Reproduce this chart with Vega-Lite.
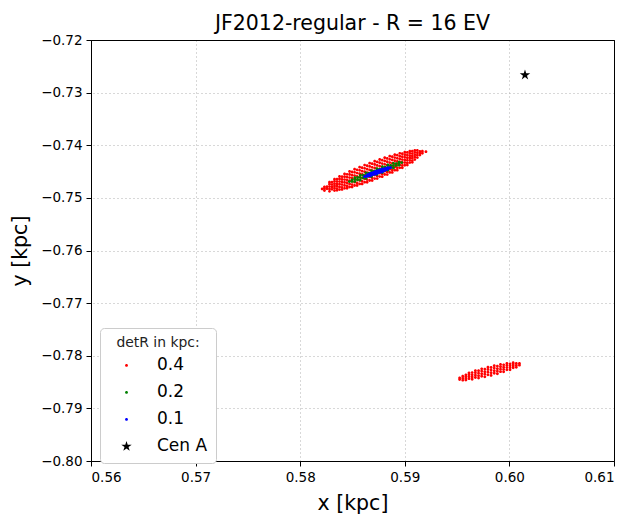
{
"$schema": "https://vega.github.io/schema/vega-lite/v6.json",
"width": 523, "height": 421,
"autosize": {"type": "none"},
"padding": {"left": 91, "top": 40, "right": 28, "bottom": 56},
"background": "white",
"title": {"text": "JF2012-regular - R = 16 EV", "fontSize": 20.5, "fontWeight": "normal", "font": "DejaVu Sans", "color": "black", "offset": -1},
"config": {
 "font": "DejaVu Sans",
 "view": {"stroke": "black", "strokeWidth": 1},
 "axis": {"domain": false, "gridColor": "#b0b0b0", "gridDash": [1, 3], "gridWidth": 1, "gridOpacity": 1, "tickColor": "black", "tickSize": 5, "labelFontSize": 13.5, "labelColor": "black", "labelFont": "DejaVu Sans", "titleFont": "DejaVu Sans", "titleFontSize": 20.5, "titleFontWeight": "normal", "titleColor": "black", "labelPadding": 4, "zindex": 1},
 "legend": {"titleFontSize": 13.9, "titleFontWeight": "normal", "titleColor": "#222222", "titleAnchor": "middle", "labelFontSize": 17, "labelColor": "black", "padding": 8, "strokeColor": "#cccccc", "fillColor": "white", "cornerRadius": 4, "rowPadding": 9, "titlePadding": 7, "labelOffset": 22, "symbolOffset": 10, "symbolStrokeWidth": 0, "symbolSize": 120}
},
"data": {"values": [
{"x":0.58210,"y":-0.74830,"d":"0.4"},
{"x":0.58232,"y":-0.74861,"d":"0.4"},{"x":0.58232,"y":-0.74826,"d":"0.4"},{"x":0.58232,"y":-0.74791,"d":"0.4"},
{"x":0.58256,"y":-0.74826,"d":"0.4"},{"x":0.58256,"y":-0.74787,"d":"0.4"},
{"x":0.58280,"y":-0.74876,"d":"0.4"},{"x":0.58280,"y":-0.74831,"d":"0.4"},{"x":0.58280,"y":-0.74786,"d":"0.4"},{"x":0.58280,"y":-0.74741,"d":"0.4"},{"x":0.58280,"y":-0.74701,"d":"0.4"},
{"x":0.58304,"y":-0.74838,"d":"0.4"},{"x":0.58304,"y":-0.74793,"d":"0.4"},{"x":0.58304,"y":-0.74748,"d":"0.4"},{"x":0.58304,"y":-0.74703,"d":"0.4"},
{"x":0.58328,"y":-0.74862,"d":"0.4"},{"x":0.58328,"y":-0.74818,"d":"0.4"},{"x":0.58328,"y":-0.74774,"d":"0.4"},{"x":0.58328,"y":-0.74730,"d":"0.4"},{"x":0.58328,"y":-0.74686,"d":"0.4"},{"x":0.58328,"y":-0.74644,"d":"0.4"},
{"x":0.58352,"y":-0.74857,"d":"0.4"},{"x":0.58352,"y":-0.74823,"d":"0.4"},{"x":0.58352,"y":-0.74777,"d":"0.4"},{"x":0.58352,"y":-0.74734,"d":"0.4"},{"x":0.58352,"y":-0.74690,"d":"0.4"},{"x":0.58352,"y":-0.74646,"d":"0.4"},
{"x":0.58376,"y":-0.74842,"d":"0.4"},{"x":0.58376,"y":-0.74792,"d":"0.4"},{"x":0.58376,"y":-0.74742,"d":"0.4"},{"x":0.58376,"y":-0.74691,"d":"0.4"},{"x":0.58376,"y":-0.74641,"d":"0.4"},{"x":0.58376,"y":-0.74593,"d":"0.4"},
{"x":0.58400,"y":-0.74839,"d":"0.4"},{"x":0.58400,"y":-0.74800,"d":"0.4"},{"x":0.58400,"y":-0.74748,"d":"0.4"},{"x":0.58400,"y":-0.74699,"d":"0.4"},{"x":0.58400,"y":-0.74649,"d":"0.4"},{"x":0.58400,"y":-0.74598,"d":"0.4"},
{"x":0.58424,"y":-0.74819,"d":"0.4"},{"x":0.58424,"y":-0.74764,"d":"0.4"},{"x":0.58424,"y":-0.74708,"d":"0.4"},{"x":0.58424,"y":-0.74652,"d":"0.4"},{"x":0.58424,"y":-0.74597,"d":"0.4"},{"x":0.58424,"y":-0.74544,"d":"0.4"},
{"x":0.58448,"y":-0.74817,"d":"0.4"},{"x":0.58448,"y":-0.74774,"d":"0.4"},{"x":0.58448,"y":-0.74717,"d":"0.4"},{"x":0.58448,"y":-0.74663,"d":"0.4"},{"x":0.58448,"y":-0.74607,"d":"0.4"},{"x":0.58448,"y":-0.74552,"d":"0.4"},
{"x":0.58472,"y":-0.74794,"d":"0.4"},{"x":0.58472,"y":-0.74734,"d":"0.4"},{"x":0.58472,"y":-0.74675,"d":"0.4"},{"x":0.58472,"y":-0.74615,"d":"0.4"},{"x":0.58472,"y":-0.74555,"d":"0.4"},{"x":0.58472,"y":-0.74499,"d":"0.4"},
{"x":0.58496,"y":-0.74793,"d":"0.4"},{"x":0.58496,"y":-0.74747,"d":"0.4"},{"x":0.58496,"y":-0.74685,"d":"0.4"},{"x":0.58496,"y":-0.74628,"d":"0.4"},{"x":0.58496,"y":-0.74568,"d":"0.4"},{"x":0.58496,"y":-0.74509,"d":"0.4"},
{"x":0.58520,"y":-0.74764,"d":"0.4"},{"x":0.58520,"y":-0.74702,"d":"0.4"},{"x":0.58520,"y":-0.74640,"d":"0.4"},{"x":0.58520,"y":-0.74577,"d":"0.4"},{"x":0.58520,"y":-0.74515,"d":"0.4"},{"x":0.58520,"y":-0.74456,"d":"0.4"},
{"x":0.58544,"y":-0.74764,"d":"0.4"},{"x":0.58544,"y":-0.74716,"d":"0.4"},{"x":0.58544,"y":-0.74652,"d":"0.4"},{"x":0.58544,"y":-0.74591,"d":"0.4"},{"x":0.58544,"y":-0.74529,"d":"0.4"},{"x":0.58544,"y":-0.74467,"d":"0.4"},
{"x":0.58568,"y":-0.74734,"d":"0.4"},{"x":0.58568,"y":-0.74670,"d":"0.4"},{"x":0.58568,"y":-0.74606,"d":"0.4"},{"x":0.58568,"y":-0.74541,"d":"0.4"},{"x":0.58568,"y":-0.74477,"d":"0.4"},{"x":0.58568,"y":-0.74416,"d":"0.4"},
{"x":0.58592,"y":-0.74735,"d":"0.4"},{"x":0.58592,"y":-0.74685,"d":"0.4"},{"x":0.58592,"y":-0.74619,"d":"0.4"},{"x":0.58592,"y":-0.74556,"d":"0.4"},{"x":0.58592,"y":-0.74492,"d":"0.4"},{"x":0.58592,"y":-0.74428,"d":"0.4"},
{"x":0.58616,"y":-0.74702,"d":"0.4"},{"x":0.58616,"y":-0.74636,"d":"0.4"},{"x":0.58616,"y":-0.74570,"d":"0.4"},{"x":0.58616,"y":-0.74504,"d":"0.4"},{"x":0.58616,"y":-0.74439,"d":"0.4"},{"x":0.58616,"y":-0.74377,"d":"0.4"},
{"x":0.58640,"y":-0.74703,"d":"0.4"},{"x":0.58640,"y":-0.74652,"d":"0.4"},{"x":0.58640,"y":-0.74584,"d":"0.4"},{"x":0.58640,"y":-0.74520,"d":"0.4"},{"x":0.58640,"y":-0.74454,"d":"0.4"},{"x":0.58640,"y":-0.74389,"d":"0.4"},
{"x":0.58664,"y":-0.74669,"d":"0.4"},{"x":0.58664,"y":-0.74602,"d":"0.4"},{"x":0.58664,"y":-0.74536,"d":"0.4"},{"x":0.58664,"y":-0.74469,"d":"0.4"},{"x":0.58664,"y":-0.74402,"d":"0.4"},{"x":0.58664,"y":-0.74340,"d":"0.4"},
{"x":0.58688,"y":-0.74670,"d":"0.4"},{"x":0.58688,"y":-0.74618,"d":"0.4"},{"x":0.58688,"y":-0.74550,"d":"0.4"},{"x":0.58688,"y":-0.74485,"d":"0.4"},{"x":0.58688,"y":-0.74419,"d":"0.4"},{"x":0.58688,"y":-0.74352,"d":"0.4"},
{"x":0.58712,"y":-0.74633,"d":"0.4"},{"x":0.58712,"y":-0.74566,"d":"0.4"},{"x":0.58712,"y":-0.74500,"d":"0.4"},{"x":0.58712,"y":-0.74433,"d":"0.4"},{"x":0.58712,"y":-0.74366,"d":"0.4"},{"x":0.58712,"y":-0.74304,"d":"0.4"},
{"x":0.58736,"y":-0.74634,"d":"0.4"},{"x":0.58736,"y":-0.74582,"d":"0.4"},{"x":0.58736,"y":-0.74514,"d":"0.4"},{"x":0.58736,"y":-0.74449,"d":"0.4"},{"x":0.58736,"y":-0.74383,"d":"0.4"},{"x":0.58736,"y":-0.74316,"d":"0.4"},
{"x":0.58760,"y":-0.74596,"d":"0.4"},{"x":0.58760,"y":-0.74530,"d":"0.4"},{"x":0.58760,"y":-0.74464,"d":"0.4"},{"x":0.58760,"y":-0.74398,"d":"0.4"},{"x":0.58760,"y":-0.74333,"d":"0.4"},{"x":0.58760,"y":-0.74271,"d":"0.4"},
{"x":0.58784,"y":-0.74597,"d":"0.4"},{"x":0.58784,"y":-0.74546,"d":"0.4"},{"x":0.58784,"y":-0.74478,"d":"0.4"},{"x":0.58784,"y":-0.74414,"d":"0.4"},{"x":0.58784,"y":-0.74348,"d":"0.4"},{"x":0.58784,"y":-0.74283,"d":"0.4"},
{"x":0.58808,"y":-0.74556,"d":"0.4"},{"x":0.58808,"y":-0.74492,"d":"0.4"},{"x":0.58808,"y":-0.74428,"d":"0.4"},{"x":0.58808,"y":-0.74363,"d":"0.4"},{"x":0.58808,"y":-0.74299,"d":"0.4"},{"x":0.58808,"y":-0.74238,"d":"0.4"},
{"x":0.58832,"y":-0.74557,"d":"0.4"},{"x":0.58832,"y":-0.74507,"d":"0.4"},{"x":0.58832,"y":-0.74441,"d":"0.4"},{"x":0.58832,"y":-0.74378,"d":"0.4"},{"x":0.58832,"y":-0.74314,"d":"0.4"},{"x":0.58832,"y":-0.74250,"d":"0.4"},
{"x":0.58856,"y":-0.74516,"d":"0.4"},{"x":0.58856,"y":-0.74454,"d":"0.4"},{"x":0.58856,"y":-0.74392,"d":"0.4"},{"x":0.58856,"y":-0.74329,"d":"0.4"},{"x":0.58856,"y":-0.74267,"d":"0.4"},{"x":0.58856,"y":-0.74208,"d":"0.4"},
{"x":0.58880,"y":-0.74516,"d":"0.4"},{"x":0.58880,"y":-0.74468,"d":"0.4"},{"x":0.58880,"y":-0.74404,"d":"0.4"},{"x":0.58880,"y":-0.74343,"d":"0.4"},{"x":0.58880,"y":-0.74281,"d":"0.4"},{"x":0.58880,"y":-0.74219,"d":"0.4"},
{"x":0.58904,"y":-0.74474,"d":"0.4"},{"x":0.58904,"y":-0.74414,"d":"0.4"},{"x":0.58904,"y":-0.74355,"d":"0.4"},{"x":0.58904,"y":-0.74295,"d":"0.4"},{"x":0.58904,"y":-0.74235,"d":"0.4"},{"x":0.58904,"y":-0.74179,"d":"0.4"},
{"x":0.58928,"y":-0.74473,"d":"0.4"},{"x":0.58928,"y":-0.74427,"d":"0.4"},{"x":0.58928,"y":-0.74365,"d":"0.4"},{"x":0.58928,"y":-0.74308,"d":"0.4"},{"x":0.58928,"y":-0.74248,"d":"0.4"},{"x":0.58928,"y":-0.74189,"d":"0.4"},
{"x":0.58952,"y":-0.74429,"d":"0.4"},{"x":0.58952,"y":-0.74374,"d":"0.4"},{"x":0.58952,"y":-0.74318,"d":"0.4"},{"x":0.58952,"y":-0.74262,"d":"0.4"},{"x":0.58952,"y":-0.74207,"d":"0.4"},{"x":0.58952,"y":-0.74154,"d":"0.4"},
{"x":0.58976,"y":-0.74427,"d":"0.4"},{"x":0.58976,"y":-0.74384,"d":"0.4"},{"x":0.58976,"y":-0.74327,"d":"0.4"},{"x":0.58976,"y":-0.74273,"d":"0.4"},{"x":0.58976,"y":-0.74217,"d":"0.4"},{"x":0.58976,"y":-0.74162,"d":"0.4"},
{"x":0.59000,"y":-0.74380,"d":"0.4"},{"x":0.59000,"y":-0.74330,"d":"0.4"},{"x":0.59000,"y":-0.74280,"d":"0.4"},{"x":0.59000,"y":-0.74229,"d":"0.4"},{"x":0.59000,"y":-0.74179,"d":"0.4"},{"x":0.59000,"y":-0.74131,"d":"0.4"},
{"x":0.59024,"y":-0.74377,"d":"0.4"},{"x":0.59024,"y":-0.74338,"d":"0.4"},{"x":0.59024,"y":-0.74286,"d":"0.4"},{"x":0.59024,"y":-0.74237,"d":"0.4"},{"x":0.59024,"y":-0.74187,"d":"0.4"},{"x":0.59024,"y":-0.74136,"d":"0.4"},
{"x":0.59048,"y":-0.74330,"d":"0.4"},{"x":0.59048,"y":-0.74286,"d":"0.4"},{"x":0.59048,"y":-0.74242,"d":"0.4"},{"x":0.59048,"y":-0.74198,"d":"0.4"},{"x":0.59048,"y":-0.74154,"d":"0.4"},{"x":0.59048,"y":-0.74112,"d":"0.4"},
{"x":0.59072,"y":-0.74325,"d":"0.4"},{"x":0.59072,"y":-0.74291,"d":"0.4"},{"x":0.59072,"y":-0.74245,"d":"0.4"},{"x":0.59072,"y":-0.74202,"d":"0.4"},{"x":0.59072,"y":-0.74158,"d":"0.4"},{"x":0.59072,"y":-0.74114,"d":"0.4"},
{"x":0.59096,"y":-0.74272,"d":"0.4"},{"x":0.59096,"y":-0.74227,"d":"0.4"},{"x":0.59096,"y":-0.74182,"d":"0.4"},{"x":0.59096,"y":-0.74137,"d":"0.4"},{"x":0.59096,"y":-0.74097,"d":"0.4"},
{"x":0.59120,"y":-0.74234,"d":"0.4"},{"x":0.59120,"y":-0.74189,"d":"0.4"},{"x":0.59120,"y":-0.74144,"d":"0.4"},{"x":0.59120,"y":-0.74099,"d":"0.4"},
{"x":0.59144,"y":-0.74187,"d":"0.4"},{"x":0.59144,"y":-0.74152,"d":"0.4"},{"x":0.59144,"y":-0.74117,"d":"0.4"},
{"x":0.59168,"y":-0.74152,"d":"0.4"},{"x":0.59168,"y":-0.74113,"d":"0.4"},
{"x":0.59202,"y":-0.74122,"d":"0.4"},
{"x":0.59524,"y":-0.78453,"d":"0.4"},{"x":0.59524,"y":-0.78421,"d":"0.4"},
{"x":0.59554,"y":-0.78464,"d":"0.4"},{"x":0.59554,"y":-0.78427,"d":"0.4"},{"x":0.59554,"y":-0.78390,"d":"0.4"},
{"x":0.59584,"y":-0.78461,"d":"0.4"},{"x":0.59584,"y":-0.78428,"d":"0.4"},{"x":0.59584,"y":-0.78395,"d":"0.4"},{"x":0.59584,"y":-0.78362,"d":"0.4"},
{"x":0.59614,"y":-0.78436,"d":"0.4"},{"x":0.59614,"y":-0.78398,"d":"0.4"},{"x":0.59614,"y":-0.78360,"d":"0.4"},{"x":0.59614,"y":-0.78326,"d":"0.4"},
{"x":0.59644,"y":-0.78446,"d":"0.4"},{"x":0.59644,"y":-0.78404,"d":"0.4"},{"x":0.59644,"y":-0.78362,"d":"0.4"},{"x":0.59644,"y":-0.78320,"d":"0.4"},
{"x":0.59675,"y":-0.78414,"d":"0.4"},{"x":0.59675,"y":-0.78369,"d":"0.4"},{"x":0.59675,"y":-0.78325,"d":"0.4"},{"x":0.59675,"y":-0.78285,"d":"0.4"},
{"x":0.59705,"y":-0.78425,"d":"0.4"},{"x":0.59705,"y":-0.78378,"d":"0.4"},{"x":0.59705,"y":-0.78331,"d":"0.4"},{"x":0.59705,"y":-0.78284,"d":"0.4"},
{"x":0.59735,"y":-0.78389,"d":"0.4"},{"x":0.59735,"y":-0.78341,"d":"0.4"},{"x":0.59735,"y":-0.78292,"d":"0.4"},{"x":0.59735,"y":-0.78249,"d":"0.4"},
{"x":0.59765,"y":-0.78401,"d":"0.4"},{"x":0.59765,"y":-0.78352,"d":"0.4"},{"x":0.59765,"y":-0.78302,"d":"0.4"},{"x":0.59765,"y":-0.78253,"d":"0.4"},
{"x":0.59795,"y":-0.78362,"d":"0.4"},{"x":0.59795,"y":-0.78312,"d":"0.4"},{"x":0.59795,"y":-0.78262,"d":"0.4"},{"x":0.59795,"y":-0.78217,"d":"0.4"},
{"x":0.59825,"y":-0.78373,"d":"0.4"},{"x":0.59825,"y":-0.78323,"d":"0.4"},{"x":0.59825,"y":-0.78273,"d":"0.4"},{"x":0.59825,"y":-0.78223,"d":"0.4"},
{"x":0.59855,"y":-0.78333,"d":"0.4"},{"x":0.59855,"y":-0.78283,"d":"0.4"},{"x":0.59855,"y":-0.78234,"d":"0.4"},{"x":0.59855,"y":-0.78189,"d":"0.4"},
{"x":0.59885,"y":-0.78342,"d":"0.4"},{"x":0.59885,"y":-0.78293,"d":"0.4"},{"x":0.59885,"y":-0.78245,"d":"0.4"},{"x":0.59885,"y":-0.78196,"d":"0.4"},
{"x":0.59915,"y":-0.78302,"d":"0.4"},{"x":0.59915,"y":-0.78255,"d":"0.4"},{"x":0.59915,"y":-0.78208,"d":"0.4"},{"x":0.59915,"y":-0.78165,"d":"0.4"},
{"x":0.59945,"y":-0.78306,"d":"0.4"},{"x":0.59945,"y":-0.78262,"d":"0.4"},{"x":0.59945,"y":-0.78217,"d":"0.4"},{"x":0.59945,"y":-0.78173,"d":"0.4"},
{"x":0.59976,"y":-0.78267,"d":"0.4"},{"x":0.59976,"y":-0.78225,"d":"0.4"},{"x":0.59976,"y":-0.78183,"d":"0.4"},{"x":0.59976,"y":-0.78145,"d":"0.4"},
{"x":0.60006,"y":-0.78267,"d":"0.4"},{"x":0.60006,"y":-0.78229,"d":"0.4"},{"x":0.60006,"y":-0.78191,"d":"0.4"},{"x":0.60006,"y":-0.78153,"d":"0.4"},
{"x":0.60036,"y":-0.78228,"d":"0.4"},{"x":0.60036,"y":-0.78195,"d":"0.4"},{"x":0.60036,"y":-0.78162,"d":"0.4"},{"x":0.60036,"y":-0.78133,"d":"0.4"},
{"x":0.60066,"y":-0.78220,"d":"0.4"},{"x":0.60066,"y":-0.78183,"d":"0.4"},{"x":0.60066,"y":-0.78146,"d":"0.4"},
{"x":0.60096,"y":-0.78179,"d":"0.4"},{"x":0.60096,"y":-0.78147,"d":"0.4"},
{"x":0.58470,"y":-0.74691,"d":"0.2"},
{"x":0.58496,"y":-0.74687,"d":"0.2"},{"x":0.58496,"y":-0.74657,"d":"0.2"},
{"x":0.58523,"y":-0.74690,"d":"0.2"},{"x":0.58523,"y":-0.74653,"d":"0.2"},{"x":0.58523,"y":-0.74616,"d":"0.2"},
{"x":0.58549,"y":-0.74655,"d":"0.2"},{"x":0.58549,"y":-0.74613,"d":"0.2"},
{"x":0.58575,"y":-0.74662,"d":"0.2"},{"x":0.58575,"y":-0.74615,"d":"0.2"},{"x":0.58575,"y":-0.74568,"d":"0.2"},
{"x":0.58602,"y":-0.74621,"d":"0.2"},{"x":0.58602,"y":-0.74571,"d":"0.2"},
{"x":0.58628,"y":-0.74630,"d":"0.2"},{"x":0.58628,"y":-0.74577,"d":"0.2"},{"x":0.58628,"y":-0.74524,"d":"0.2"},
{"x":0.58654,"y":-0.74585,"d":"0.2"},{"x":0.58654,"y":-0.74531,"d":"0.2"},
{"x":0.58681,"y":-0.74594,"d":"0.2"},{"x":0.58681,"y":-0.74539,"d":"0.2"},{"x":0.58681,"y":-0.74484,"d":"0.2"},
{"x":0.58707,"y":-0.74548,"d":"0.2"},{"x":0.58707,"y":-0.74492,"d":"0.2"},
{"x":0.58733,"y":-0.74557,"d":"0.2"},{"x":0.58733,"y":-0.74501,"d":"0.2"},{"x":0.58733,"y":-0.74445,"d":"0.2"},
{"x":0.58759,"y":-0.74510,"d":"0.2"},{"x":0.58759,"y":-0.74454,"d":"0.2"},
{"x":0.58786,"y":-0.74517,"d":"0.2"},{"x":0.58786,"y":-0.74463,"d":"0.2"},{"x":0.58786,"y":-0.74409,"d":"0.2"},
{"x":0.58812,"y":-0.74470,"d":"0.2"},{"x":0.58812,"y":-0.74418,"d":"0.2"},
{"x":0.58838,"y":-0.74475,"d":"0.2"},{"x":0.58838,"y":-0.74425,"d":"0.2"},{"x":0.58838,"y":-0.74375,"d":"0.2"},
{"x":0.58865,"y":-0.74429,"d":"0.2"},{"x":0.58865,"y":-0.74383,"d":"0.2"},
{"x":0.58891,"y":-0.74430,"d":"0.2"},{"x":0.58891,"y":-0.74387,"d":"0.2"},{"x":0.58891,"y":-0.74344,"d":"0.2"},
{"x":0.58917,"y":-0.74387,"d":"0.2"},{"x":0.58917,"y":-0.74349,"d":"0.2"},
{"x":0.58944,"y":-0.74378,"d":"0.2"},{"x":0.58944,"y":-0.74349,"d":"0.2"},{"x":0.58944,"y":-0.74320,"d":"0.2"},
{"x":0.58970,"y":-0.74330,"d":"0.2"},
{"x":0.58614,"y":-0.74596,"d":"0.1"},
{"x":0.58628,"y":-0.74587,"d":"0.1"},
{"x":0.58642,"y":-0.74592,"d":"0.1"},{"x":0.58642,"y":-0.74562,"d":"0.1"},
{"x":0.58656,"y":-0.74580,"d":"0.1"},{"x":0.58656,"y":-0.74556,"d":"0.1"},
{"x":0.58670,"y":-0.74582,"d":"0.1"},{"x":0.58670,"y":-0.74558,"d":"0.1"},{"x":0.58670,"y":-0.74534,"d":"0.1"},
{"x":0.58683,"y":-0.74566,"d":"0.1"},{"x":0.58683,"y":-0.74530,"d":"0.1"},
{"x":0.58697,"y":-0.74558,"d":"0.1"},{"x":0.58697,"y":-0.74520,"d":"0.1"},
{"x":0.58711,"y":-0.74549,"d":"0.1"},{"x":0.58711,"y":-0.74509,"d":"0.1"},
{"x":0.58725,"y":-0.74548,"d":"0.1"},{"x":0.58725,"y":-0.74520,"d":"0.1"},{"x":0.58725,"y":-0.74492,"d":"0.1"},
{"x":0.58739,"y":-0.74530,"d":"0.1"},{"x":0.58739,"y":-0.74490,"d":"0.1"},
{"x":0.58753,"y":-0.74520,"d":"0.1"},{"x":0.58753,"y":-0.74480,"d":"0.1"},
{"x":0.58767,"y":-0.74511,"d":"0.1"},{"x":0.58767,"y":-0.74471,"d":"0.1"},
{"x":0.58781,"y":-0.74508,"d":"0.1"},{"x":0.58781,"y":-0.74481,"d":"0.1"},{"x":0.58781,"y":-0.74454,"d":"0.1"},
{"x":0.58795,"y":-0.74490,"d":"0.1"},{"x":0.58795,"y":-0.74454,"d":"0.1"},
{"x":0.58809,"y":-0.74480,"d":"0.1"},{"x":0.58809,"y":-0.74444,"d":"0.1"},
{"x":0.58822,"y":-0.74464,"d":"0.1"},{"x":0.58822,"y":-0.74440,"d":"0.1"},
{"x":0.58836,"y":-0.74458,"d":"0.1"},{"x":0.58836,"y":-0.74428,"d":"0.1"},
{"x":0.58850,"y":-0.74433,"d":"0.1"},
{"x":0.58864,"y":-0.74424,"d":"0.1"},
{"x":0.60149,"y":-0.72665,"d":"Cen A"}
]},
"layer": [
 {
  "mark": {"type": "point", "filled": true, "opacity": 1, "strokeWidth": 0, "size": 120},
  "encoding": {
   "x": {"field": "x", "type": "quantitative", "scale": {"domain": [0.56, 0.61], "nice": false, "zero": false}, "axis": {"values": [0.56, 0.57, 0.58, 0.59, 0.6, 0.61], "format": ".2f", "title": "x [kpc]", "titlePadding": 10, "grid": false, "domain": true, "domainColor": "black"}},
   "y": {"field": "y", "type": "quantitative", "scale": {"domain": [-0.8, -0.72], "nice": false, "zero": false}, "axis": {"values": [-0.8, -0.79, -0.78, -0.77, -0.76, -0.75, -0.74, -0.73, -0.72], "format": ".2f", "title": "y [kpc]", "titlePadding": 10, "grid": false, "domain": true, "domainColor": "black"}},
   "color": {"field": "d", "type": "nominal", "scale": {"domain": ["0.4", "0.2", "0.1", "Cen A"], "range": ["#ff0000", "#008000", "#0000ff", "#000000"]}, "legend": {"title": "detR in kpc:", "orient": "none", "legendX": 9, "legendY": 288}},
   "shape": {"field": "d", "type": "nominal", "scale": {"domain": ["0.4", "0.2", "0.1", "Cen A"], "range": ["M0,-0.26A0.26,0.26 0 1,1 0,0.26A0.26,0.26 0 1,1 0,-0.26Z", "M0,-0.26A0.26,0.26 0 1,1 0,0.26A0.26,0.26 0 1,1 0,-0.26Z", "M0,-0.26A0.26,0.26 0 1,1 0,0.26A0.26,0.26 0 1,1 0,-0.26Z", "M0,-1L0.2245,-0.309L0.951,-0.309L0.363,0.118L0.588,0.809L0,0.382L-0.588,0.809L-0.363,0.118L-0.951,-0.309L-0.2245,-0.309Z"]}, "legend": {"title": "detR in kpc:", "orient": "none", "legendX": 9, "legendY": 288}}
  }
 },
 {
  "transform": [{"filter": "datum.d == 'Cen A'"}],
  "mark": {"type": "point", "opacity": 0},
  "encoding": {
   "x": {"field": "x", "type": "quantitative", "axis": {"orient": "top", "values": [0.57, 0.58, 0.59, 0.6], "labels": false, "ticks": false, "grid": true, "domain": true, "domainColor": "black", "title": null}},
   "y": {"field": "y", "type": "quantitative", "axis": {"orient": "right", "values": [-0.79, -0.78, -0.77, -0.76, -0.75, -0.74, -0.73], "labels": false, "ticks": false, "grid": true, "domain": true, "domainColor": "black", "title": null}}
  }
 }
],
"resolve": {"axis": {"x": "independent", "y": "independent"}}
}
